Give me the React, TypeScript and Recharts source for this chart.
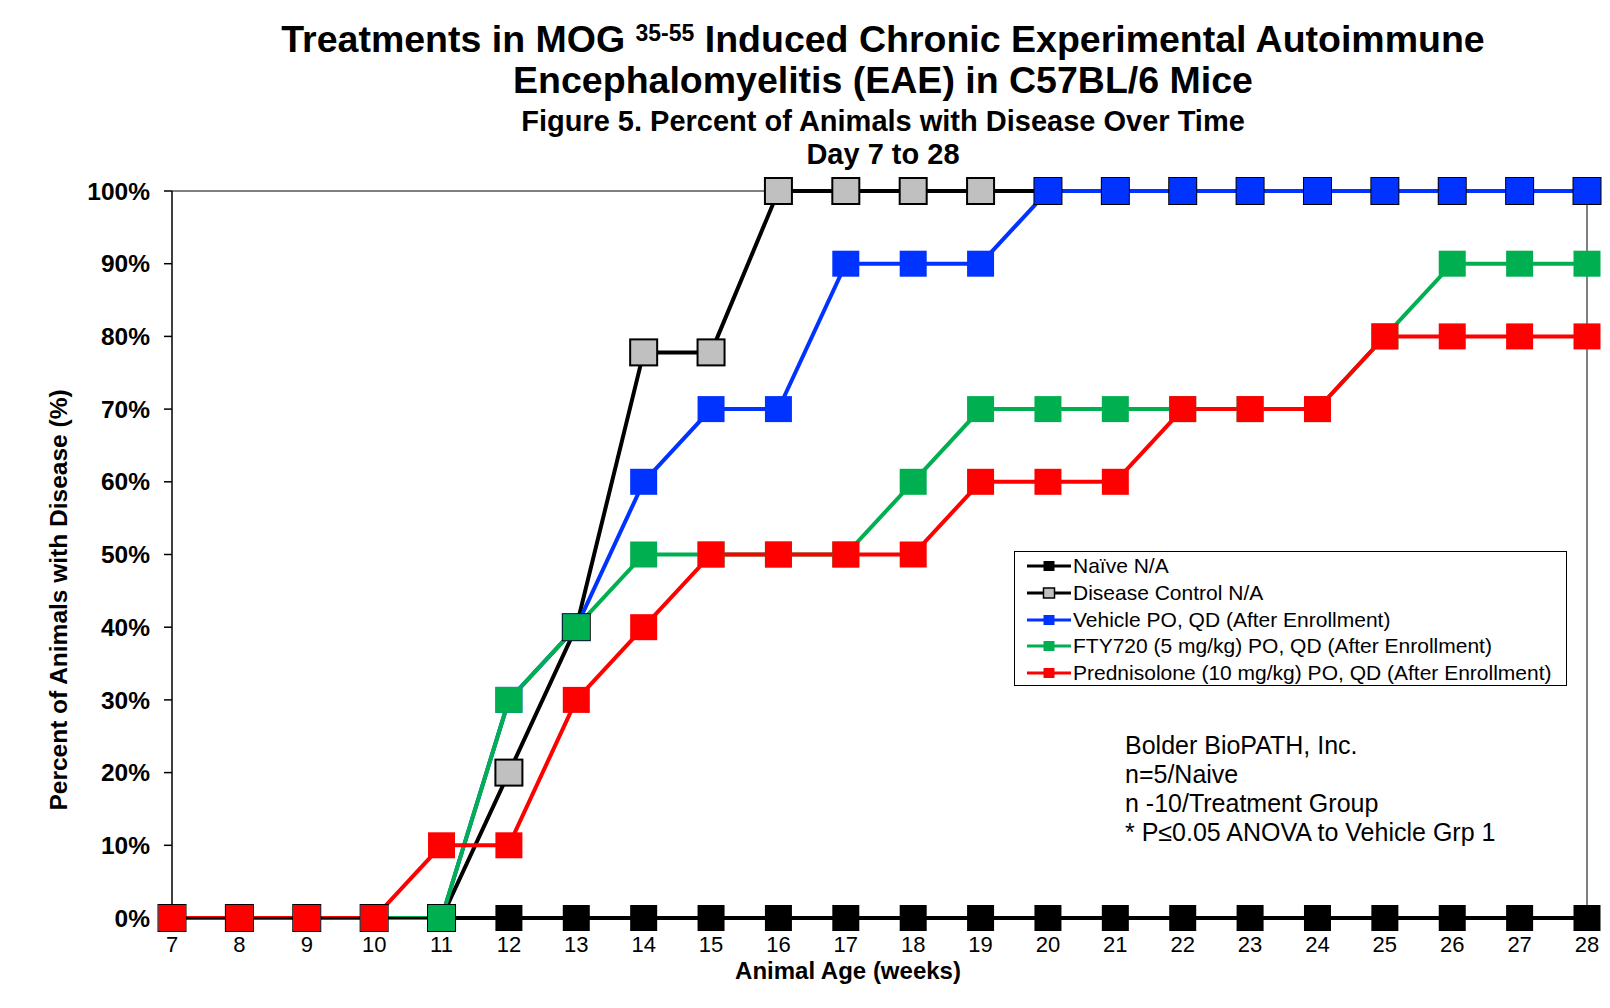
import React from "react";
import { LineChart, Line, XAxis, YAxis, Label, ReferenceLine } from "recharts";

const WEEKS = [7, 8, 9, 10, 11, 12, 13, 14, 15, 16, 17, 18, 19, 20, 21, 22, 23, 24, 25, 26, 27, 28];

const NAIVE = [0, 0, 0, 0, 0, 0, 0, 0, 0, 0, 0, 0, 0, 0, 0, 0, 0, 0, 0, 0, 0, 0];
const DISEASE_CONTROL = [0, 0, 0, 0, 0, 20, 40, 77.8, 77.8, 100, 100, 100, 100, 100, 100, 100, 100, 100, 100, 100, 100, 100];
const VEHICLE = [0, 0, 0, 0, 0, 30, 40, 60, 70, 70, 90, 90, 90, 100, 100, 100, 100, 100, 100, 100, 100, 100];
const FTY720 = [0, 0, 0, 0, 0, 30, 40, 50, 50, 50, 50, 60, 70, 70, 70, 70, 70, 70, 80, 90, 90, 90];
const PREDNISOLONE = [0, 0, 0, 0, 10, 10, 30, 40, 50, 50, 50, 50, 60, 60, 60, 70, 70, 70, 80, 80, 80, 80];

const Y_TICKS = [0, 10, 20, 30, 40, 50, 60, 70, 80, 90, 100];

const NOTES = [
  "Bolder BioPATH, Inc.",
  "n=5/Naive",
  "n -10/Treatment Group",
  "* P≤0.05 ANOVA to Vehicle Grp 1",
];

const SERIES = [
  { key: "naive", name: "Naïve N/A", values: NAIVE, line: "#000000", fill: "#000000", border: "none" },
  { key: "dc", name: "Disease Control N/A", values: DISEASE_CONTROL, line: "#000000", fill: "#C0C0C0", border: "#000000" },
  { key: "vehicle", name: "Vehicle PO, QD (After Enrollment)", values: VEHICLE, line: "#0033FF", fill: "#0033FF", border: "none" },
  { key: "fty", name: "FTY720 (5 mg/kg) PO, QD (After Enrollment)", values: FTY720, line: "#00B050", fill: "#00B050", border: "none" },
  { key: "pred", name: "Prednisolone (10 mg/kg) PO, QD (After Enrollment)", values: PREDNISOLONE, line: "#FF0000", fill: "#FF0000", border: "none" },
];

const data = WEEKS.map((w, i) => {
  const row: Record<string, number> = { week: w };
  SERIES.forEach((s) => (row[s.key] = s.values[i]));
  return row;
});

const FONT = "'Liberation Sans', Arial, sans-serif";

function squareDot(fill: string, border: string) {
  return (props: any) => {
    const { cx, cy, index } = props;
    if (cx == null || cy == null) return <g key={index} />;
    const hasBorder = border !== "none";
    return (
      <rect
        key={index}
        x={cx - 13.5}
        y={cy - 13}
        width={27}
        height={26}
        fill={fill}
        stroke={hasBorder ? border : "none"}
        strokeWidth={hasBorder ? 2 : 0}
      />
    );
  };
}

function LegendBox() {
  return (
    <div
      style={{
        position: "absolute",
        left: 1014,
        top: 551,
        width: 553,
        height: 135,
        border: "1.5px solid #000",
        background: "#fff",
        padding: "1px 0 0 12px",
        fontFamily: FONT,
        fontSize: 21,
        boxSizing: "border-box",
        color: "#000",
      }}
    >
      {SERIES.map((s) => (
        <div key={s.key} style={{ display: "flex", alignItems: "center", height: 26.7, whiteSpace: "nowrap" }}>
          <svg width={44} height={16} style={{ marginRight: 2, flexShrink: 0 }}>
            <line x1={0} y1={8} x2={44} y2={8} stroke={s.line} strokeWidth={3} />
            <rect
              x={16.5}
              y={3}
              width={11}
              height={10}
              fill={s.fill}
              stroke={s.border === "none" ? "none" : s.border}
              strokeWidth={s.border === "none" ? 0 : 1.5}
            />
          </svg>
          <span>{s.name}</span>
        </div>
      ))}
    </div>
  );
}

const titleStyle: React.CSSProperties = {
  position: "absolute",
  left: 0,
  width: 1766,
  textAlign: "center",
  fontFamily: FONT,
  fontWeight: "bold",
  whiteSpace: "nowrap",
  color: "#000",
};

export default function App() {
  return (
    <div style={{ position: "absolute", left: 0, top: 0, width: 1610, height: 1008, background: "#fff" }}>
      <div style={{ ...titleStyle, top: 17, fontSize: 37.5, lineHeight: "44px" }}>
        Treatments in MOG{" "}
        <sup style={{ fontSize: 23, verticalAlign: "11px", lineHeight: 0 }}>35-55</sup> Induced Chronic Experimental
        Autoimmune
      </div>
      <div style={{ ...titleStyle, top: 58, fontSize: 37.5, lineHeight: "44px" }}>
        Encephalomyelitis (EAE) in C57BL/6 Mice
      </div>
      <div style={{ ...titleStyle, top: 105, fontSize: 29, lineHeight: "32px" }}>
        Figure 5. Percent of Animals with Disease Over Time
      </div>
      <div style={{ ...titleStyle, top: 138, fontSize: 29, lineHeight: "32px" }}>Day 7 to 28</div>

      <LineChart
        width={1610}
        height={1008}
        data={data}
        margin={{ top: 191, right: 23, bottom: 50, left: 112 }}
        style={{ position: "absolute", left: 0, top: 0 }}
      >
        <ReferenceLine y={100} stroke="#808080" strokeWidth={2} />
        <ReferenceLine x={28} stroke="#808080" strokeWidth={2} />
        <XAxis
          dataKey="week"
          type="number"
          domain={[7, 28]}
          ticks={WEEKS}
          interval={0}
          height={40}
          axisLine={{ stroke: "#000", strokeWidth: 2 }}
          tickLine={false}
          tickSize={0}
          tickMargin={18}
          tick={{ fill: "#000", fontSize: 22, fontFamily: FONT }}
        >
          <Label
            content={() => (
              <text x={848} y={979} textAnchor="middle" fontFamily={FONT} fontWeight="bold" fontSize={24} fill="#000">
                Animal Age (weeks)
              </text>
            )}
          />
        </XAxis>
        <YAxis
          type="number"
          domain={[0, 100]}
          ticks={Y_TICKS}
          width={60}
          interval={0}
          axisLine={{ stroke: "#000", strokeWidth: 1.5 }}
          tickLine={{ stroke: "#000", strokeWidth: 1.5 }}
          tickSize={8}
          tickMargin={14}
          tickFormatter={(v: number) => `${v}%`}
          tick={{ fill: "#000", fontSize: 24.5, fontFamily: FONT, fontWeight: "bold" }}
        >
          <Label
            content={() => (
              <text
                x={58}
                y={600}
                transform="rotate(-90 58 600)"
                textAnchor="middle"
                dominantBaseline="central"
                fontFamily={FONT}
                fontWeight="bold"
                fontSize={24.5}
                fill="#000"
              >
                Percent of Animals with Disease (%)
              </text>
            )}
          />
        </YAxis>
        {SERIES.map((s) => (
          <Line
            key={s.key}
            type="linear"
            dataKey={s.key}
            name={s.name}
            stroke={s.line}
            strokeWidth={4}
            dot={squareDot(s.fill, s.border)}
            activeDot={false}
            isAnimationActive={false}
          />
        ))}
      </LineChart>

      <LegendBox />

      <div
        style={{
          position: "absolute",
          left: 1125,
          top: 731,
          fontFamily: FONT,
          fontSize: 25,
          lineHeight: "29px",
          color: "#000",
          whiteSpace: "nowrap",
        }}
      >
        {NOTES.map((n) => (
          <div key={n}>{n}</div>
        ))}
      </div>
    </div>
  );
}
